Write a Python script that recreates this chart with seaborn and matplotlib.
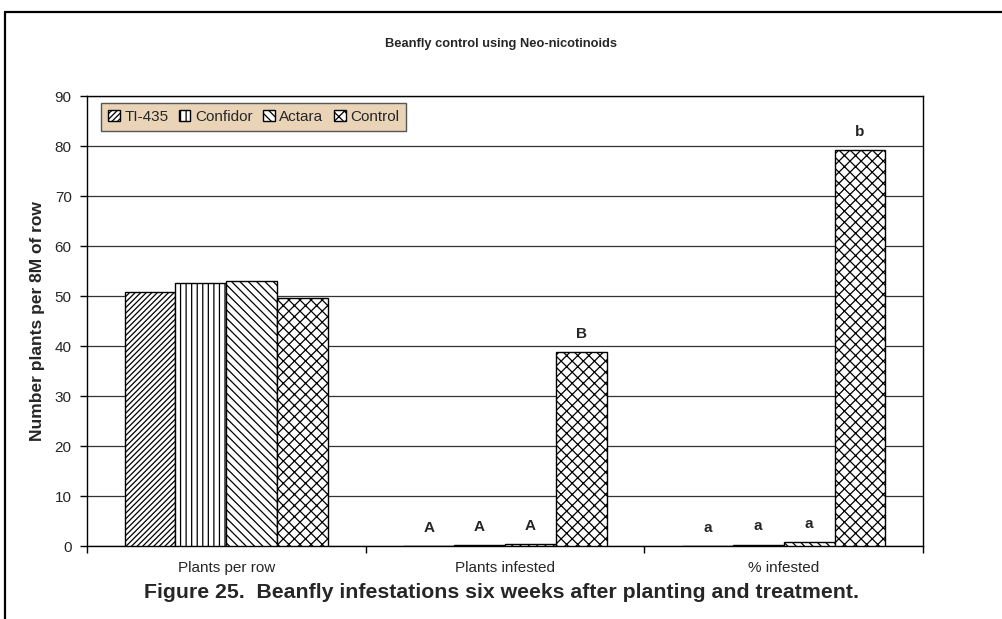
import matplotlib
matplotlib.use("Agg")
import matplotlib.pyplot as plt
from matplotlib.patches import Patch
from matplotlib.lines import Line2D
import seaborn as sns
import pandas as pd

categories = ["Plants per row", "Plants infested", "% infested"]
treatments = ["TI-435", "Confidor", "Actara", "Control"]
ti435 = [50.9, 0.0, 0.0]
confidor = [52.7, 0.2, 0.3]
actara = [53.1, 0.4, 0.8]
control = [49.7, 38.8, 79.2]
letters = {
    "TI-435": ["", "A", "a"],
    "Confidor": ["", "A", "a"],
    "Actara": ["", "A", "a"],
    "Control": ["", "B", "b"],
}
yticks = [0, 10, 20, 30, 40, 50, 60, 70, 80, 90]

series = {"TI-435": ti435, "Confidor": confidor, "Actara": actara, "Control": control}
rows = []
for t in treatments:
    for c, v in zip(categories, series[t]):
        rows.append({"Category": c, "Treatment": t, "Value": v})
df = pd.DataFrame(rows)

sns.set_style("white")
plt.rcParams["font.family"] = ["Liberation Sans", "DejaVu Sans"]
plt.rcParams["hatch.linewidth"] = 0.9
plt.rcParams["hatch.color"] = "#222222"

fig = plt.figure(figsize=(10.02, 6.19), dpi=100)
ax = fig.add_axes([87 / 1002, 73 / 619, 836 / 1002, 450 / 619])

sns.barplot(data=df, x="Category", y="Value", hue="Treatment", order=categories,
            hue_order=treatments, palette=["white"] * 4, width=0.73, gap=0,
            edgecolor="black", linewidth=1.0, ax=ax, legend=False, zorder=3)

hatches = ["//////", "|||", "\\\\\\\\", "xxx"]
for cont, h, t in zip(ax.containers, hatches, treatments):
    for i, bar in enumerate(cont):
        bar.set_hatch(h)
        bar.set_facecolor("white")
        bar.set_edgecolor("black")
        lab = letters[t][i]
        if lab:
            ax.annotate(lab, (bar.get_x() + bar.get_width() / 2, bar.get_height()),
                        xytext=(0, 8), textcoords="offset points", ha="center",
                        va="bottom", fontsize=11, fontweight="bold")

ax.set_ylim(0, 90)
ax.set_xlim(-0.5, 2.5)
ax.set_yticks(yticks)
ax.set_yticklabels([str(v) for v in yticks], fontsize=11)
ax.set_xticks([0, 1, 2])
ax.set_xticklabels(categories, fontsize=11)
ax.set_xticks([-0.5, 0.5, 1.5, 2.5], minor=True)
ax.tick_params(axis="x", which="major", length=0, pad=11)
ax.tick_params(axis="x", which="minor", length=5, width=1, direction="out", color="black", bottom=True)
ax.tick_params(axis="y", length=5, width=1, direction="out", color="black", left=True, pad=6)
ax.yaxis.grid(True, color="#333333", linewidth=0.9)
ax.set_axisbelow(True)
for s in ax.spines.values():
    s.set_color("black")
    s.set_linewidth(1.0)
ax.set_xlabel("")
ax.set_ylabel("Number plants per 8M of row", fontsize=12.5, fontweight="bold", labelpad=7)

handles = [Patch(facecolor="white", edgecolor="black", hatch=h, label=t)
           for h, t in zip(hatches, treatments)]
leg = ax.legend(handles=handles, loc="upper left", bbox_to_anchor=(0.017, 0.985), ncol=4,
                fontsize=11, frameon=True, fancybox=False, shadow=False,
                handlelength=0.75, handleheight=0.75, handletextpad=0.3,
                columnspacing=0.7, borderpad=0.45, borderaxespad=0)
leg.get_frame().set_facecolor("#E9D4B8")
leg.get_frame().set_edgecolor("#555555")
leg.get_frame().set_linewidth(1.0)
leg.get_frame().set_alpha(1)

fig.text(0.5, 1 - 44 / 619, "Beanfly control using Neo-nicotinoids", ha="center", va="center",
         fontsize=9.3, fontweight="bold")
fig.text(0.5, 1 - 593 / 619, "Figure 25.  Beanfly infestations six weeks after planting and treatment.",
         ha="center", va="center", fontsize=15.3, fontweight="bold")

fig.add_artist(Line2D([5 / 1002, 5 / 1002], [0, 1 - 12 / 619], color="black", linewidth=1.6,
                      transform=fig.transFigure))
fig.add_artist(Line2D([5 / 1002, 1], [1 - 12 / 619, 1 - 12 / 619], color="black", linewidth=1.6,
                      transform=fig.transFigure))

fig.savefig("out.png", dpi=100, facecolor="white")
